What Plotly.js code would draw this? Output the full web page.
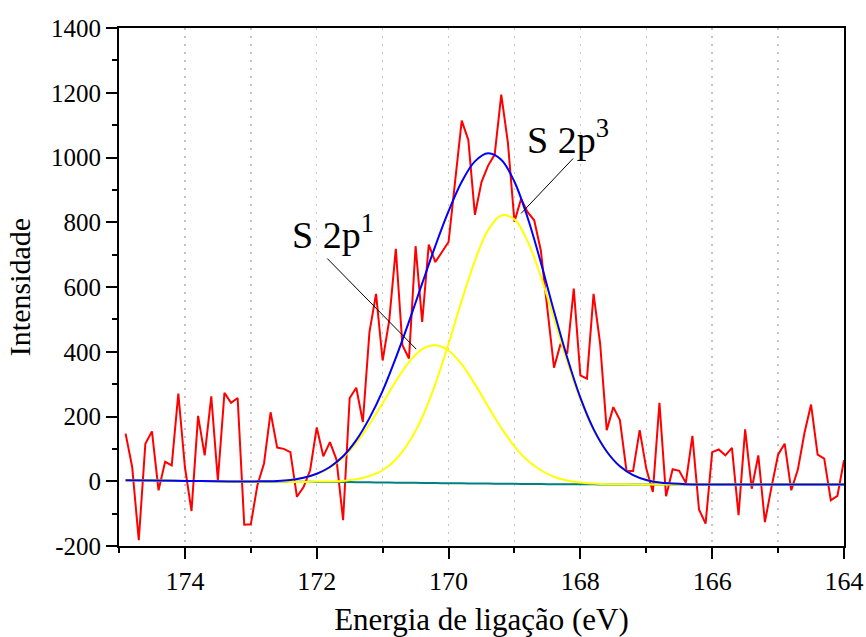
<!DOCTYPE html>
<html>
<head>
<meta charset="utf-8">
<script src="https://cdn.plot.ly/plotly-3.0.1.min.js"></script>
<style>html,body{margin:0;padding:0;background:#fff;}#chart{width:866px;height:637px;}</style>
</head>
<body>
<div id="chart"></div>
<script>
// Measured spectrum (binding energy, eV) and intensity
const energy = [
  174.9,174.8,174.7,174.6,174.5,174.4,174.3,174.2,174.1,174.0,
  173.9,173.8,173.7,173.6,173.5,173.4,173.3,173.2,173.1,173.0,
  172.9,172.8,172.7,172.6,172.5,172.4,172.3,172.2,172.1,172.0,
  171.9,171.8,171.7,171.6,171.5,171.4,171.3,171.2,171.1,171.0,
  170.9,170.8,170.7,170.6,170.5,170.4,170.3,170.2,170.1,170.0,
  169.9,169.8,169.7,169.6,169.5,169.4,169.3,169.2,169.1,169.0,
  168.9,168.8,168.7,168.6,168.5,168.4,168.3,168.2,168.1,168.0,
  167.9,167.8,167.7,167.6,167.5,167.4,167.3,167.2,167.1,167.0,
  166.9,166.8,166.7,166.6,166.5,166.4,166.3,166.2,166.1,166.0,
  165.9,165.8,165.7,165.6,165.5,165.4,165.3,165.2,165.1,165.0,
  164.9,164.8,164.7,164.6,164.5,164.4,164.3,164.2,164.1,164.0
];
const intensity = [
  147, 44, -182, 116, 154, -28, 60, 49, 271, 44,
  -92, 202, 80, 262, 3, 273, 242, 257, -134, -133,
  -12, 55, 213, 104, 100, 90, -48, -18, 34, 166,
  77, 121, 67, -120, 257, 289, 183, 461, 579, 373,
  497, 718, 420, 379, 726, 492, 731, 677, 708, 739,
  927, 1114, 1054, 823, 924, 975, 1009, 1194, 1047, 802,
  872, 831, 806, 713, 532, 351, 425, 394, 595, 327,
  317, 579, 425, 158, 229, 189, 32, 32, 158, 39,
  -33, 242, -46, 37, 32, -5, 140, -87, -131, 90,
  98, 80, 103, -105, 160, -23, 80, -126, -18, 82,
  116, -28, 36, 149, 237, 82, 70, -59, -45, 65
];

// Fit curves
const fitEnergy = [174.9,174.5,174,173.5,173,172.8,172.6,172.4,172.2,172,171.8,171.6,171.4,171.2,171,170.8,170.6,170.4,170.2,170,169.8,169.6,169.4,169.2,169,168.8,168.6,168.4,168.2,168,167.8,167.6,167.4,167.2,167,166.8,166.6,166.4,166.2,166,165.5,165,164.5,164];
const baseline = [3,2,1,0,-1,-1.2,-1.4,-1.6,-1.8,-2,-2.4,-2.6,-2.8,-3.2,-4,-4.4,-4.8,-5.2,-5.6,-6,-6.4,-6.8,-7.2,-7.6,-8,-8.4,-8.8,-9,-9.2,-9.5,-9.6,-9.7,-9.8,-9.9,-10,-10,-10,-10,-10,-10,-10,-10,-10,-10];
const peak2p1 = [3,2,1,0,-1,0,1,4,11,22,42,73,119,176,241,309,368,408,420,404,361,300,231,165,108,64,34,14,2,-4,-7,-9,-9,-10,-10,-10,-10,-10,-10,-10,-10,-10,-10,-10];
const peak2p3 = [3,2,1,0,-1,-1,-1,-2,-2,-1,-1,1,6,16,34,67,121,197,301,424,558,681,776,821,809,741,633,502,370,252,159,91,46,19,4,-4,-7,-9,-10,-10,-10,-10,-10,-10];
const envelope = [3,2,1,0,-1,0,1,4,11,23,44,77,127,195,279,381,493,611,727,834,925,988,1013,993,925,814,676,525,382,258,161,92,46,19,4,-4,-7,-9,-10,-10,-10,-10,-10,-10];

const yTickVals = [-200,0,200,400,600,800,1000,1200,1400];
const yTickText = ['-200','0','200','400','600','800','1000','1200','1400'];
const xTickVals = [174,172,170,168,166,164];
const xTickText = ['174','172','170','168','166','164'];

const font = '"Liberation Serif", "Times New Roman", Times, serif';

const traces = [
  {x: energy, y: intensity, type: 'scatter', mode: 'lines', line: {color: '#ff0000', width: 2}, hoverinfo: 'skip'},
  {x: fitEnergy, y: baseline, type: 'scatter', mode: 'lines', line: {color: '#008080', width: 2, shape: 'spline'}},
  {x: fitEnergy, y: peak2p1, type: 'scatter', mode: 'lines', line: {color: '#ffff00', width: 2, shape: 'spline'}},
  {x: fitEnergy, y: peak2p3, type: 'scatter', mode: 'lines', line: {color: '#ffff00', width: 2, shape: 'spline'}},
  {x: fitEnergy, y: envelope, type: 'scatter', mode: 'lines', line: {color: '#0000ff', width: 2, shape: 'spline'}}
];

const gridDash = '2px,6px';
const gridColor = '#c4c4c4';

const layout = {
  width: 866, height: 637,
  margin: {l: 119, r: 22, t: 28, b: 91},
  paper_bgcolor: '#ffffff', plot_bgcolor: '#ffffff',
  showlegend: false,
  font: {family: font, color: '#000'},
  xaxis: {
    range: [175, 164],
    tickmode: 'array', tickvals: xTickVals, ticktext: xTickText,
    ticks: 'outside', ticklen: 11, tickwidth: 2, tickcolor: '#000',
    tickfont: {family: font, size: 26, color: '#000'},
    showline: true, linecolor: '#000', linewidth: 2, mirror: true,
    showgrid: true, gridcolor: gridColor, gridwidth: 1.5, griddash: gridDash,
    minor: {dtick: 1, tick0: 164, ticks: 'outside', ticklen: 5, tickwidth: 2, tickcolor: '#000', showgrid: true, gridcolor: gridColor, gridwidth: 1.5, griddash: gridDash},
    zeroline: false,
    title: {text: 'Energia de ligação (eV)', font: {family: font, size: 31, color: '#000'}, standoff: 15},
    automargin: false
  },
  yaxis: {
    range: [-200, 1400],
    tickmode: 'array', tickvals: yTickVals, ticktext: yTickText,
    ticks: 'outside', ticklen: 11, tickwidth: 2, tickcolor: '#000',
    tickfont: {family: font, size: 25, color: '#000'},
    showline: true, linecolor: '#000', linewidth: 2, mirror: true,
    showgrid: false, zeroline: false,
    minor: {dtick: 100, tick0: -200, ticks: 'outside', ticklen: 5, tickwidth: 2, tickcolor: '#000', showgrid: false},
    title: {text: 'Intensidade', font: {family: font, size: 30, color: '#000'}, standoff: 12},
    automargin: false
  },
  annotations: [
    {x: 172.40, y: 770, xref: 'x', yref: 'y', xanchor: 'left', yanchor: 'middle', showarrow: false,
     text: 'S 2p<sup>1</sup>', font: {family: font, size: 38, color: '#000'}},
    {x: 168.84, y: 1063, xref: 'x', yref: 'y', xanchor: 'left', yanchor: 'middle', showarrow: false,
     text: 'S 2p<sup>3</sup>', font: {family: font, size: 38, color: '#000'}}
  ],
  shapes: [
    {type: 'line', xref: 'x', yref: 'y', x0: 171.84, y0: 688, x1: 170.49, y1: 408, line: {color: '#000', width: 1}},
    {type: 'line', xref: 'x', yref: 'y', x0: 168.11, y0: 997, x1: 168.90, y1: 827, line: {color: '#000', width: 1}}
  ]
};

Plotly.newPlot('chart', traces, layout, {staticPlot: true, displayModeBar: false});
</script>
</body>
</html>
